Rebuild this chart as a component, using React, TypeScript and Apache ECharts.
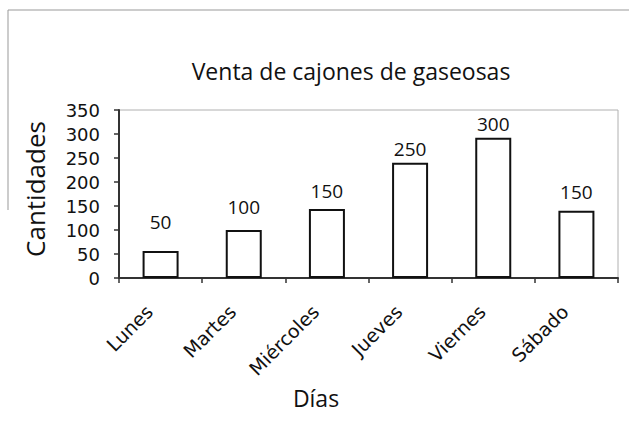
import React, { useEffect, useRef } from "react";
import * as echarts from "echarts";

const categories = ["Lunes", "Martes", "Miércoles", "Jueves", "Viernes", "Sábado"];
// bar heights as drawn in the picture
const barValues = [56, 100, 144, 240, 292, 140];
// values printed above the bars
const printedLabels = ["50", "100", "150", "250", "300", "150"];
const labelDistances = [20, 14, 8, 4, 4, 9];
const yTicks = { min: 0, max: 350, interval: 50 };
const title = "Venta de cajones de gaseosas";
const yName = "Cantidades";
const xName = "Días";

export default function App() {
  const ref = useRef<HTMLDivElement>(null);
  useEffect(() => {
    if (!ref.current) return;
    const chart = echarts.init(ref.current, null, { renderer: "svg" });
    chart.setOption({
      animation: false,
      backgroundColor: "#ffffff",
      grid: {
        left: 119,
        right: 11,
        top: 110,
        bottom: 161,
        show: true,
        borderColor: "#b0b0b0",
        borderWidth: 1,
        backgroundColor: "transparent",
      },
      xAxis: {
        type: "category",
        data: categories,
        axisLine: { lineStyle: { color: "#333", width: 2 } },
        axisTick: { show: true, length: 5, lineStyle: { color: "#333", width: 1.5 } },
        axisLabel: {
          rotate: 45,
          margin: 19,
          padding: [0, 16, 0, 0],
          fontFamily: "DejaVu Sans",
          fontSize: 19,
          color: "#111",
        },
      },
      yAxis: {
        type: "value",
        min: yTicks.min,
        max: yTicks.max,
        interval: yTicks.interval,
        splitLine: { show: false },
        axisLine: { show: true, lineStyle: { color: "#333", width: 2 } },
        axisTick: { show: true, length: 5, lineStyle: { color: "#333", width: 1.5 } },
        axisLabel: {
          margin: 19,
          fontFamily: "DejaVu Sans",
          fontSize: 18,
          color: "#111",
        },
      },
      graphic: [
        { type: "line", shape: { x1: 8, y1: 10, x2: 629, y2: 10 }, style: { stroke: "#999", lineWidth: 1 } },
        { type: "line", shape: { x1: 8, y1: 10, x2: 8, y2: 210 }, style: { stroke: "#999", lineWidth: 1 } },
        {
          type: "text",
          x: 351,
          y: 71,
          style: {
            text: title,
            fontFamily: "Open Sans",
            fontSize: 23,
            fill: "#111",
            textAlign: "center",
            textVerticalAlign: "middle",
          },
        },
        {
          type: "text",
          x: 35,
          y: 189,
          rotation: Math.PI / 2,
          style: {
            text: yName,
            fontFamily: "Open Sans",
            fontSize: 26,
            fill: "#111",
            textAlign: "center",
            textVerticalAlign: "middle",
          },
        },
        {
          type: "text",
          x: 316,
          y: 398,
          style: {
            text: xName,
            fontFamily: "Open Sans",
            fontSize: 23,
            fill: "#111",
            textAlign: "center",
            textVerticalAlign: "middle",
          },
        },
      ],
      series: [
        {
          type: "bar",
          barWidth: 36,
          data: barValues.map((v, i) => ({
            value: v,
            label: { distance: labelDistances[i] },
          })),
          itemStyle: { color: "#ffffff", borderColor: "#111", borderWidth: 2 },
          label: {
            show: true,
            position: "top",
            fontFamily: "Open Sans",
            fontSize: 19,
            color: "#111",
            formatter: (p: any) => printedLabels[p.dataIndex],
          },
        },
      ],
    });
    return () => chart.dispose();
  }, []);
  return <div ref={ref} style={{ width: 629, height: 439, position: "absolute", left: 0, top: 0 }} />;
}
